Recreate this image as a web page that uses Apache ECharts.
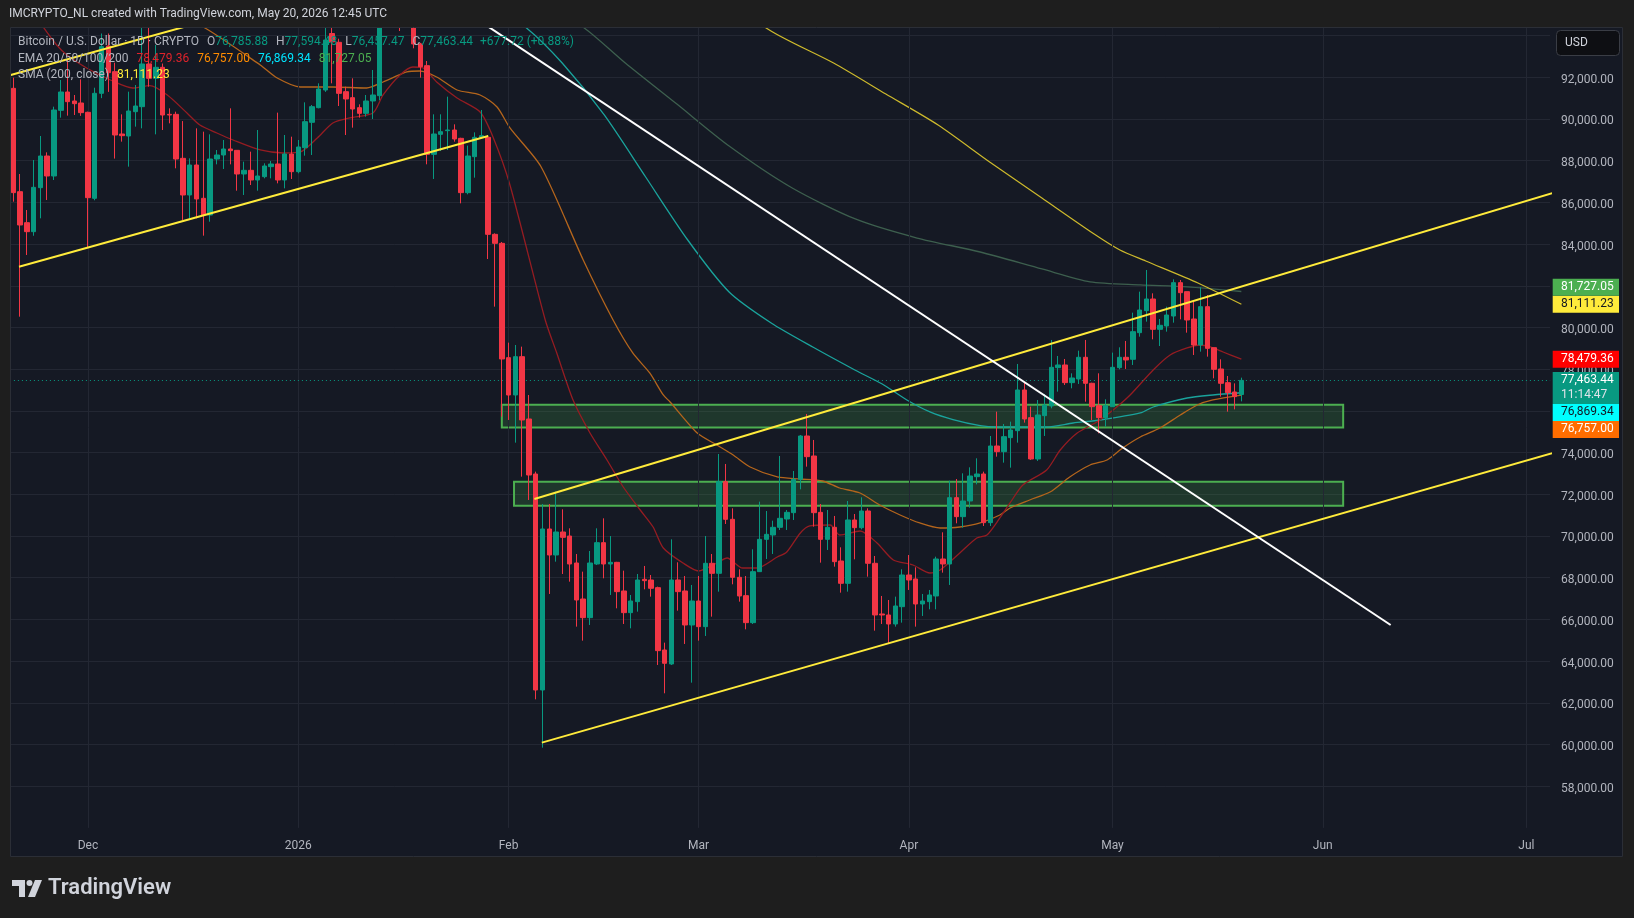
<!DOCTYPE html>
<html><head><meta charset="utf-8">
<script src="https://cdn.jsdelivr.net/npm/echarts@6/dist/echarts.min.js"></script>
<style>html,body{margin:0;padding:0;background:#1e1e1e;}#main{width:1634px;height:918px;}</style>
</head><body><div id="main"></div>
<script>
// ---------- DATA ----------
const startDate = '2025-11-20';
const dayCount = 227; // Nov 20 2025 .. Jul 4 2026
const monthNames = ['Jan','Feb','Mar','Apr','May','Jun','Jul','Aug','Sep','Oct','Nov','Dec'];

const opens = [
91470,86514,85028,84596,86706,88225,87266,90415,91295,90863,
90767,90320,86195,91231,93500,92270,89280,89184,90351,90591,
92638,91950,92478,90223,90223,88113,86355,87793,86195,85395,
88081,88273,88561,88497,87362,87538,87074,87234,87714,87842,
87074,88321,87474,88625,89840,90543,91390,94100,93677,91311,
91023,90543,90271,90863,91119,95400,96900,95600,95500,95100,
93597,92558,88305,89264,89440,89472,89072,86467,88193,89120,
89120,84468,84036,78553,76763,78601,75612,72974,62614,70336,
69089,70192,69999,68705,66979,66084,68657,69681,68657,68737,
67363,66324,66851,67922,67890,67523,64533,63862,67890,67363,
65732,66883,65652,68690,68210,72606,70800,68018,67139,65844,
68290,69840,70048,70416,70815,71119,72718,74796,73837,71135,
69840,70416,68801,67730,70768,70400,71199,68690,66260,66212,
65780,66611,68130,67938,66739,66851,67123,68897,68657,71839,
70928,71679,72846,72974,70640,74317,74045,74717,75052,77003,
75676,73694,75772,76235,78074,78202,77355,77531,78570,77323,
76251,75676,76203,78074,78570,78474,79752,80807,81367,79912,
80072,80551,82150,81719,80408,79160,80999,79032,78010,77354,
76907,76785.88];
const highs = [
91982,87362,85635,88033,89184,88401,90591,91870,92829,91151,
91900,90352,91500,94100,94100,92700,90223,91311,91630,94428,
94428,93549,92660,90511,90351,89900,88113,89552,89392,89264,
88513,88992,90511,88497,87953,88433,89472,87874,87986,90304,
89232,89152,88992,90799,90671,91710,94380,94700,93850,91550,
91950,90703,91151,92350,96000,97900,97400,96000,95900,95500,
93650,92782,90224,90224,91071,89744,89100,88721,89360,90431,
89232,84516,84100,79273,79161,79081,76763,73086,71535,71535,
72127,71279,70368,69137,68290,69281,70368,70848,69999,68760,
68338,67171,68178,68562,68130,67571,64885,69840,68738,68081,
67651,68081,70000,69137,73933,73454,71327,68402,68081,69361,
71647,71199,70736,73837,71247,73118,74844,75852,74605,71535,
71247,70960,69457,71679,71055,71855,71327,69041,67123,66931,
67091,68402,69089,68498,67219,67411,69009,70176,72654,72734,
73006,73294,73726,73086,74796,75964,75372,75484,78250,77355,
76203,76523,76811,79401,78634,78490,77802,78889,79401,77350,
77802,76555,78794,79049,79353,80711,81719,82758,81639,80408,
80999,82310,82278,81719,81239,81927,81559,79032,78473,77674,
77322,77594.48];
const lows = [
86035,80519,83477,84400,85236,86115,87074,90064,90160,90192,
90150,83829,86100,91000,91300,88100,88913,87714,89632,89552,
91550,89264,89472,89792,87634,85156,85236,85236,84404,85075,
87825,87602,87825,86562,86355,86834,86562,87154,87154,86914,
86674,87122,87394,88241,88273,90511,91300,91710,90623,89232,
89584,90064,90112,89999,90900,94900,95000,94220,94800,93390,
91982,87826,87122,88465,88513,88913,85955,86387,87186,89100,
83285,81000,75724,75564,74477,72846,71727,62167,59848,67219,
68769,68178,67810,65652,64981,65732,68609,67970,67171,66531,
65780,65572,66372,67443,67091,63814,62455,63813,66419,64821,
62966,64981,65204,66132,67331,70576,67683,66851,65524,65780,
68290,68897,69137,70288,70288,70768,72238,73326,70448,68722,
69329,68530,67283,67331,68881,70320,68050,65460,65780,64821,
65652,65844,67411,65652,66164,66483,66483,68242,67651,70608,
70400,71359,72478,70480,70480,73805,73518,73278,74477,75436,
73650,73600,74797,76123,76923,77243,77083,77291,76443,75564,
74925,75244,76203,77994,78010,78202,79560,80280,79432,79112,
79800,80232,80392,79752,78681,78841,78601,77562,76683,75964,
76075,76457.47];
const closes = [
86467,84916,84596,86722,88225,87266,90431,91295,90831,90735,
90304,86227,91231,93469,92222,89232,89200,90383,90623,92638,
91950,92478,90191,90191,88081,86355,87793,86163,85395,88081,
88273,88561,88481,87362,87538,87074,87266,87746,87842,87074,
88321,87474,88657,89872,90591,91438,93789,93700,91230,90959,
90479,90271,90863,91151,95400,96900,95600,95500,95100,93597,
92510,88305,89280,89392,89472,89040,86467,88225,89120,89200,
84468,84036,78490,76763,78601,75564,72926,62614,70336,69089,
70192,69936,68657,66931,66084,68705,69681,68657,68737,67331,
66324,66883,67890,67858,67491,64501,63894,67890,67331,65732,
66883,65652,68690,68210,72606,70800,68018,67123,65844,68290,
69840,70080,70416,70848,71135,72718,74796,73805,71119,69840,
70416,68769,67730,70768,70400,71199,68690,66212,66212,65780,
66643,68130,67890,66739,66883,67171,68897,68657,71839,70928,
71679,72878,72974,70640,74317,74045,74765,75084,77003,75612,
73694,75804,76283,78090,78202,77355,77578,78570,77323,76203,
75676,76251,78090,78570,78442,79800,80839,81367,79912,80104,
80599,82150,81670,80360,79160,80999,78999,77994,77323,76875,
76683,77463.44];

// indicator lines: [dayIndex, value]
const ema20 = [[0,96500],[4.2,94508],[6.4,93549],[7.9,93070],[10.8,92446],[14.3,91870],[17.6,91487],[20.1,91600],[22.7,91151],[25.6,90288],[27.5,89712],[30,89329],[32.4,88993],[36.4,88513],[39.8,88369],[42.3,88417],[44.8,89089],[47.1,89808],[49.6,90048],[53,90288],[54.5,91151],[57,92110],[58.9,92494],[60.4,92446],[62.4,91775],[65.4,91007],[68.8,90336],[70.7,89137],[73.2,86835],[78.4,80360],[80.1,78777],[82.5,76523],[85,74940],[87.5,73645],[89.9,72350],[92.4,71247],[94.3,70432],[95.8,69425],[98.7,68705],[101,68321],[103.7,68705],[105.2,68945],[107.5,68465],[109.6,68465],[112.6,68993],[114,69233],[116,70144],[117.4,70480],[120.4,70528],[121.8,70048],[124.8,70240],[127.3,69665],[129.7,68849],[132.6,68609],[135.1,68226],[136.6,68370],[139.5,69185],[142,69905],[143.5,70048],[145.4,70864],[146.9,71583],[148.8,72446],[152.3,73166],[154.3,74125],[156.8,74940],[159.7,75468],[162.1,76044],[164.6,76763],[168,77962],[170.5,78681],[173,79017],[174.9,79161],[176.4,79065],[178.3,78825],[181,78479.36]];
const ema50 = [[0,99000],[15,96500],[28,94412],[36.4,92590],[38.9,91966],[42.3,91535],[47.1,91535],[52.1,91487],[54.5,91774],[58,92254],[59.9,92302],[62.4,92014],[65.4,91391],[68.8,91151],[71.3,90576],[73.2,89569],[77.8,87698],[84,83238],[88.4,80360],[91.3,78777],[93.8,77818],[95.8,76763],[96.8,76427],[100.8,74940],[103.7,74365],[106.1,73885],[108.6,73310],[112.6,72830],[116,72734],[119.3,72638],[121.8,72302],[124.8,72062],[127.7,71487],[130.7,71007],[133.6,70624],[136.6,70384],[139.5,70432],[142.5,70624],[145.4,71007],[146.9,71343],[149.8,71727],[152.8,72110],[155.7,72830],[158.7,73406],[161.2,73645],[163.5,74221],[166.1,74749],[169,75180],[172,75804],[174.5,76283],[176.8,76523],[181,76757]];
const ema100 = [[40,101000],[60,97500],[70,95600],[75.6,94380],[80.9,92686],[87.1,90192],[93.2,87218],[99.4,84196],[105.5,81703],[111.7,80216],[117.9,79050],[124.1,77950],[128,77300],[131.7,76523],[135.1,75950],[138.5,75580],[142.5,75290],[145,75228],[152.3,75228],[156.2,75420],[160.2,75564],[166.1,75900],[168,76187],[173,76619],[176.8,76763],[181,76869.34]];
const ema200 = [[50,101500],[70,97300],[84.1,94380],[90.2,92686],[97.8,90715],[105.5,88705],[114.8,86691],[124.1,85205],[133.2,84292],[142.5,83621],[151.6,82806],[158.7,82190],[166.1,82046],[173,81950],[181,81727.05]];
const sma200 = [[95,98500],[110.9,94380],[120.9,92686],[128.6,91199],[136.3,89712],[143.9,87938],[151.6,86211],[159.3,84484],[163.1,83717],[166.9,83190],[174.6,82134],[181,81111.23]];

// drawn trend lines: [[dayIndex, price], [dayIndex, price]]
const yellowLines = [
  [[-0.5,92100],[30,94850]],
  [[0.84,82916],[70,89185]],
  [[76.8,71775],[226.8,86437]],
  [[77.9,60089],[226.8,73967]]
];
const whiteLines = [[[68,94860],[203,65733]]];
// zones: [fromDay, toDay, low, high]
const zones = [[72,196,75200,76290],[73.8,196,71450,72606]];

const priceTicks = {min:56000, max:94412, step:2000, labelMin:58000, labelMax:92000};
const lastPrice = 77463.44;
const countdown = '11:14:47';
const badges = [
  {v:81727.05, bg:'#4caf50', fg:'#ffffff'},
  {v:81111.23, bg:'#ffeb3b', fg:'#131722'},
  {v:78479.36, bg:'#ff0000', fg:'#ffffff'},
  {v:76869.34, bg:'#00ffff', fg:'#131722'},
  {v:76757.00, bg:'#ff6d00', fg:'#ffffff'}
];

// ---------- CHART ----------
const BG='#151924', OUTER='#1e1e1e', GRIDC='#232733', TXT='#b2b5be', UP='#089981', DOWN='#f23645';
const FONT='Roboto';
const categories=[];
{const d0=Date.parse(startDate+'T00:00:00Z');for(let i=0;i<dayCount;i++){categories.push(new Date(d0+i*86400000).toISOString().slice(0,10));}}
const monthStarts = categories.filter(c=>c.slice(8)==='01');
const fmt = v => v.toLocaleString('en-US',{minimumFractionDigits:2,maximumFractionDigits:2});

const chart = echarts.init(document.getElementById('main'));
const GRID={left:9.9,right:83.9,top:27,bottom:90.1};

const lineSeries=(data,color,w,z)=>({type:'line',xAxisIndex:1,yAxisIndex:0,data,showSymbol:false,smooth:0.25,silent:true,lineStyle:{color,width:w},z,clip:true});

const series=[
  {type:'line',xAxisIndex:0,yAxisIndex:0,data:[],silent:true,z:1,
   markLine:{silent:true,symbol:['none','none'],label:{show:false},lineStyle:{color:GRIDC,width:1,type:'solid'},
     data:monthStarts.map(c=>({xAxis:c}))}},
  {type:'line',xAxisIndex:1,yAxisIndex:0,data:[[zones[0][0],zones[0][2]]],showSymbol:false,lineStyle:{width:0,opacity:0},silent:true,z:1,
   markArea:{silent:true,itemStyle:{color:'rgba(76,175,80,0.2)',borderColor:'#4caf50',borderWidth:2},
     data:zones.map(z=>[{xAxis:z[0],yAxis:z[3]},{xAxis:z[1],yAxis:z[2]}])}},
  lineSeries(ema200,'#3d5f4e',1.3,3),
  lineSeries(sma200,'#cdb92c',1.2,3),
  lineSeries(ema100,'#1aa39c',1.3,3),
  lineSeries(ema50,'#b4651c',1.3,3),
  lineSeries(ema20,'#951c22',1.3,3),
  {type:'candlestick',xAxisIndex:0,yAxisIndex:0,barWidth:5,clip:true,z:5,
   data:opens.map((o,i)=>[o,closes[i],lows[i],highs[i]]),
   itemStyle:{color:UP,color0:DOWN,borderColor:UP,borderColor0:DOWN,borderColorDoji:DOWN,borderWidth:1},
   markLine:{silent:true,symbol:['none','none'],label:{show:false},lineStyle:{color:UP,width:1,type:[1,3]},data:[{yAxis:lastPrice}]}}
];
yellowLines.forEach(l=>series.push({type:'line',xAxisIndex:1,yAxisIndex:0,data:l,showSymbol:false,silent:true,clip:true,lineStyle:{color:'#ffeb3b',width:2},z:6}));
whiteLines.forEach(l=>series.push({type:'line',xAxisIndex:1,yAxisIndex:0,data:l,showSymbol:false,silent:true,clip:true,lineStyle:{color:'#ffffff',width:2},z:6}));

chart.setOption({
  animation:false,
  backgroundColor:BG,
  textStyle:{fontFamily:FONT},
  grid:GRID,
  xAxis:[
    {type:'category',data:categories,boundaryGap:true,axisLine:{show:false},axisTick:{show:false},splitLine:{show:false},
     axisLabel:{interval:(i,v)=>v.slice(8)==='01',formatter:v=>{const m=+v.slice(5,7);return m===1?v.slice(0,4):monthNames[m-1];},
       color:TXT,fontSize:12,fontFamily:FONT,margin:12}},
    {type:'value',min:-0.5,max:dayCount-0.5,show:false,splitLine:{show:false}}
  ],
  yAxis:{type:'value',position:'right',min:priceTicks.min,max:priceTicks.max,interval:priceTicks.step,
    axisLine:{show:false},axisTick:{show:false},
    splitLine:{show:true,showMinLine:false,showMaxLine:false,lineStyle:{color:GRIDC,width:1}},
    axisLabel:{color:TXT,fontSize:12,fontFamily:FONT,margin:11,showMinLabel:false,showMaxLabel:false,
      rich:{p:{color:TXT,fontSize:12,fontFamily:FONT,padding:[5,0,0,0]}},
      formatter:v=>(v%priceTicks.step===0&&v>=priceTicks.labelMin&&v<=priceTicks.labelMax)?'{p|'+fmt(v)+'}':''}},
  series
});

// ---------- overlays ----------
const mctx=document.createElement('canvas').getContext('2d');
const tw=(t,font)=>{mctx.font=font;return mctx.measureText(t).width;};
const g=[];
// outer bands
[[0,0,1634,27],[0,27,10,830],[1623,27,11,830],[0,857,1634,61]].forEach(r=>g.push({type:'rect',shape:{x:r[0],y:r[1],width:r[2],height:r[3]},style:{fill:OUTER},z:50,silent:true}));
g.push({type:'rect',shape:{x:10.5,y:27.5,width:1612,height:829},style:{fill:null,stroke:'#2b2e36',lineWidth:1},z:51,silent:true});
// title
g.push({type:'text',x:9,y:14,style:{text:'IMCRYPTO_NL created with TradingView.com, May 20, 2026 12:45 UTC',fill:'#d1d4dc',font:'12px '+FONT,verticalAlign:'middle'},z:60,silent:true});
// legend rows
const LF='12px '+FONT;
function row(segs,y){let x=18;segs.forEach(s=>{g.push({type:'text',x,y,style:{text:s[0],fill:s[1],font:LF,verticalAlign:'middle'},z:60,silent:true});x+=tw(s[0],LF)+(s[2]||0);});}
row([['Bitcoin / U.S. Dollar · 1D · CRYPTO',TXT,8],['O',TXT],[fmt(opens[181]),UP,8],['H',TXT],[fmt(highs[181]),UP,8],['L',TXT],[fmt(lows[181]),UP,8],['C',TXT],[fmt(closes[181]),UP,7],['+677.72 (+0.88%)',UP]],41.7);
row([['EMA 20/50/100/200',TXT,8],['78,479.36','#e0232b',8],['76,757.00','#ff8c00',8],['76,869.34','#00e5ff',8],['81,727.05','#4caf50']],58.5);
row([['SMA (200, close)',TXT,8],['81,111.23','#ffeb3b']],75.3);
// USD box
g.push({type:'rect',shape:{x:1556.5,y:30.5,width:63,height:25,r:4},style:{fill:'#0e0f13',stroke:'#3a3d45',lineWidth:1},z:60,silent:true});
g.push({type:'text',x:1565,y:43,style:{text:'USD',fill:'#d1d4dc',font:'12px '+FONT,verticalAlign:'middle'},z:61,silent:true});
// price badges (stacked like TradingView)
const yOf=v=>chart.convertToPixel({yAxisIndex:0},v);
const H=17, BX=1552.7, BW=66.3, TX=1561;
const yP=yOf(lastPrice);
const pTop=yP-H/2, pBot=pTop+32;
g.push({type:'rect',shape:{x:BX,y:pTop,width:BW,height:32},style:{fill:UP},z:70,silent:true});
g.push({type:'text',x:TX,y:yP,style:{text:fmt(lastPrice),fill:'#ffffff',font:'12px '+FONT,verticalAlign:'middle'},z:71,silent:true});
g.push({type:'text',x:TX,y:yP+15,style:{text:countdown,fill:'#dfe3ea',font:'12px '+FONT,verticalAlign:'middle'},z:71,silent:true});
const below=badges.map(b=>({...b,y:yOf(b.v)})).filter(b=>b.y>=yP).sort((a,b)=>a.y-b.y);
const above=badges.map(b=>({...b,y:yOf(b.v)})).filter(b=>b.y<yP).sort((a,b)=>b.y-a.y);
let prev=pBot;
below.forEach(b=>{const top=Math.max(b.y-H/2,prev);b.c=top+H/2;prev=top+H;});
prev=pTop;
above.forEach(b=>{const bot=Math.min(b.y+H/2,prev);b.c=bot-H/2;prev=bot-H;});
below.concat(above).forEach(b=>{
  g.push({type:'rect',shape:{x:BX,y:b.c-H/2,width:BW,height:H},style:{fill:b.bg},z:70,silent:true});
  g.push({type:'text',x:TX,y:b.c,style:{text:fmt(b.v),fill:b.fg,font:'12px '+FONT,verticalAlign:'middle'},z:71,silent:true});
});
// TradingView logo
g.push({type:'polygon',shape:{points:[[12,880],[25,880],[25,897],[19,897],[19,886],[12,886]]},style:{fill:'#d1d4dc'},z:60,silent:true});
g.push({type:'circle',shape:{cx:29.5,cy:883,r:3},style:{fill:'#d1d4dc'},z:60,silent:true});
g.push({type:'polygon',shape:{points:[[35,880],[42,880],[35,897],[28,897]]},style:{fill:'#d1d4dc'},z:60,silent:true});
g.push({type:'text',x:48,y:888.5,style:{text:'TradingView',fill:'#d1d4dc',font:'600 22px '+FONT,verticalAlign:'middle'},z:60,silent:true});

chart.setOption({graphic:{elements:g}});
</script>
</body></html>
